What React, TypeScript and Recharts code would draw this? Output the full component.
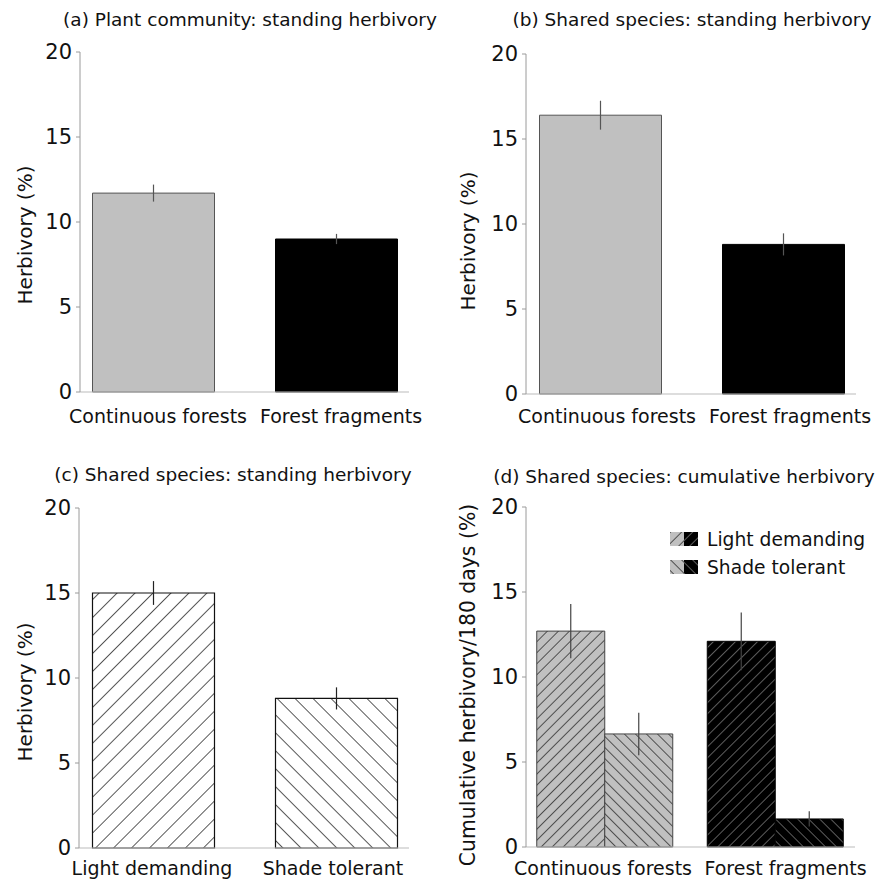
import React from "react";
import { BarChart, Bar, XAxis, YAxis, ErrorBar, Cell, Legend } from "recharts";

// ---------- data ----------
const FOREST_CATEGORIES = ["Continuous forests", "Forest fragments"];
const GUILD_CATEGORIES = ["Light demanding", "Shade tolerant"];
const Y_TICKS = [0, 5, 10, 15, 20];

const A_VALUES = [11.7, 9.0];
const A_ERRORS = [0.5, 0.3];

const B_VALUES = [16.4, 8.8];
const B_ERRORS = [0.85, 0.65];

const C_VALUES = [15.0, 8.8];
const C_ERRORS = [0.7, 0.65];

const D_LIGHT = [12.7, 12.1];
const D_LIGHT_ERR = [1.6, 1.7];
const D_SHADE = [6.65, 1.65];
const D_SHADE_ERR = [1.25, 0.45];

const TITLES = [
  "(a) Plant community: standing herbivory",
  "(b) Shared species: standing herbivory",
  "(c) Shared species: standing herbivory",
  "(d) Shared species: cumulative herbivory",
];

// ---------- tables built from arrays ----------
const dataA = FOREST_CATEGORIES.map((c, i) => ({ cat: c, value: A_VALUES[i], err: A_ERRORS[i] }));
const dataB = FOREST_CATEGORIES.map((c, i) => ({ cat: c, value: B_VALUES[i], err: B_ERRORS[i] }));
const dataC = GUILD_CATEGORIES.map((c, i) => ({ cat: c, value: C_VALUES[i], err: C_ERRORS[i] }));
const dataD = FOREST_CATEGORIES.map((c, i) => ({
  cat: c,
  light: D_LIGHT[i],
  lightErr: D_LIGHT_ERR[i],
  shade: D_SHADE[i],
  shadeErr: D_SHADE_ERR[i],
}));

const FONT = "'DejaVu Sans', sans-serif";
const GRAY = "#c0c0c0";
const AXIS_COLOR = "#9a9a9a";
const TEXT_COLOR = "#111";

const yTick = { fontSize: 21, fill: TEXT_COLOR, fontFamily: FONT };

// category tick label with a small per-label horizontal nudge
const makeXTick = (nudges: number[]) => (props: any) => {
  const { x, y, payload, index } = props;
  return (
    <text
      x={x + (nudges[index] || 0)}
      y={y}
      dy="0.71em"
      textAnchor="middle"
      fontSize={19}
      fill={TEXT_COLOR}
      fontFamily={FONT}
    >
      {payload.value}
    </text>
  );
};

const Patterns = ({ prefix }: { prefix: string }) => (
  <defs>
    <pattern id={`${prefix}cLight`} patternUnits="userSpaceOnUse" width={12.7} height={12.7} patternTransform="rotate(45)">
      <rect width={12.7} height={12.7} fill="#fff" />
      <line x1={0} y1={0} x2={0} y2={12.7} stroke="#111" strokeWidth={1.4} />
    </pattern>
    <pattern id={`${prefix}cShade`} patternUnits="userSpaceOnUse" width={12.7} height={12.7} patternTransform="rotate(-45)">
      <rect width={12.7} height={12.7} fill="#fff" />
      <line x1={0} y1={0} x2={0} y2={12.7} stroke="#111" strokeWidth={1.4} />
    </pattern>
    <pattern id={`${prefix}grayLight`} patternUnits="userSpaceOnUse" width={7.8} height={7.8} patternTransform="rotate(45)">
      <rect width={7.8} height={7.8} fill={GRAY} />
      <line x1={0} y1={0} x2={0} y2={7.8} stroke="#111" strokeWidth={1.3} />
    </pattern>
    <pattern id={`${prefix}grayShade`} patternUnits="userSpaceOnUse" width={7.8} height={7.8} patternTransform="rotate(-45)">
      <rect width={7.8} height={7.8} fill={GRAY} />
      <line x1={0} y1={0} x2={0} y2={7.8} stroke="#111" strokeWidth={1.3} />
    </pattern>
    <pattern id={`${prefix}blackLight`} patternUnits="userSpaceOnUse" width={7.8} height={7.8} patternTransform="rotate(45)">
      <rect width={7.8} height={7.8} fill="#000" />
      <line x1={0} y1={0} x2={0} y2={7.8} stroke="#9a9a9a" strokeWidth={1.2} />
    </pattern>
    <pattern id={`${prefix}blackShade`} patternUnits="userSpaceOnUse" width={7.8} height={7.8} patternTransform="rotate(-45)">
      <rect width={7.8} height={7.8} fill="#000" />
      <line x1={0} y1={0} x2={0} y2={7.8} stroke="#9a9a9a" strokeWidth={1.2} />
    </pattern>
  </defs>
);

const yLabel = (text: string, x: number, shift: number, size: number) => ({
  content: (props: any) => {
    const vb = props.viewBox || {};
    const cy = vb.y + vb.height / 2 + shift;
    return (
      <text
        x={x}
        y={cy}
        transform={`rotate(-90, ${x}, ${cy})`}
        textAnchor="middle"
        dominantBaseline="central"
        fontSize={size}
        fill={TEXT_COLOR}
        fontFamily={FONT}
      >
        {text}
      </text>
    );
  },
});

const Title = ({ text, left, top, width }: { text: string; left: number; top: number; width: number }) => (
  <div
    style={{
      position: "absolute",
      left,
      top,
      width,
      textAlign: "center",
      fontFamily: FONT,
      fontSize: 18.5,
      color: TEXT_COLOR,
      whiteSpace: "nowrap",
      lineHeight: "20px",
    }}
  >
    {text}
  </div>
);

const LegendContent = () => {
  const rows = [
    { label: GUILD_CATEGORIES[0], left: "lggrayLight", right: "lgblackLight" },
    { label: GUILD_CATEGORIES[1], left: "lggrayShade", right: "lgblackShade" },
  ];
  return (
    <div style={{ fontFamily: FONT, fontSize: 18.7, color: TEXT_COLOR }}>
      <svg width={0} height={0} style={{ position: "absolute" }}>
        <Patterns prefix="lg" />
      </svg>
      {rows.map((r) => (
        <div key={r.label} style={{ display: "flex", alignItems: "center", height: 28 }}>
          <svg width={28} height={14} style={{ marginRight: 9 }}>
            <rect x={0} y={0} width={14} height={14} fill={`url(#${r.left})`} />
            <rect x={14} y={0} width={14} height={14} fill={`url(#${r.right})`} />
          </svg>
          <span>{r.label}</span>
        </div>
      ))}
    </div>
  );
};

const Panel = ({ left, top, children }: { left: number; top: number; children: React.ReactNode }) => (
  <div style={{ position: "absolute", left, top }}>{children}</div>
);

export default function App() {
  return (
    <div
      style={{
        position: "absolute",
        left: 0,
        top: 0,
        width: 880,
        height: 882,
        background: "#fff",
        fontFamily: FONT,
      }}
    >
      {/* (a) */}
      <Panel left={0} top={0}>
        <BarChart width={440} height={440} data={dataA} margin={{ top: 52, right: 31, bottom: 0, left: 0 }}>
          <XAxis
            dataKey="cat"
            height={48}
            padding={{ left: -18.5, right: -18.5 }}
            tickLine={false}
            tickSize={0}
            tickMargin={18}
            tick={makeXTick([5, 5])}
            axisLine={{ stroke: "#bbb" }}
            interval={0}
          />
          <YAxis
            width={80}
            domain={[0, 20]}
            ticks={Y_TICKS}
            tick={yTick}
            tickSize={4}
            tickMargin={4}
            axisLine={{ stroke: AXIS_COLOR }}
            tickLine={{ stroke: AXIS_COLOR }}
            label={yLabel("Herbivory (%)", 25, 13, 20)}
          />
          <Bar dataKey="value" barSize={122} isAnimationActive={false} stroke="#555" strokeWidth={1}>
            {dataA.map((d, i) => (
              <Cell key={d.cat} fill={i === 0 ? GRAY : "#000"} stroke={i === 0 ? "#555" : "#000"} />
            ))}
            <ErrorBar dataKey="err" width={0} stroke="#555" strokeWidth={1.2} direction="y" isAnimationActive={false} />
          </Bar>
        </BarChart>
      </Panel>

      {/* (b) */}
      <Panel left={440} top={0}>
        <BarChart width={440} height={440} data={dataB} margin={{ top: 54, right: 24, bottom: 0, left: 0 }}>
          <XAxis
            dataKey="cat"
            height={46}
            padding={{ left: -17.5, right: -18.5 }}
            tickLine={false}
            tickSize={0}
            tickMargin={16}
            tick={makeXTick([7, 7])}
            axisLine={{ stroke: "#bbb" }}
            interval={0}
          />
          <YAxis
            width={86}
            domain={[0, 20]}
            ticks={Y_TICKS}
            tick={yTick}
            tickSize={4}
            tickMargin={4}
            axisLine={{ stroke: AXIS_COLOR }}
            tickLine={{ stroke: AXIS_COLOR }}
            label={yLabel("Herbivory (%)", 28, 17, 20)}
          />
          <Bar dataKey="value" barSize={122} isAnimationActive={false} strokeWidth={1}>
            {dataB.map((d, i) => (
              <Cell key={d.cat} fill={i === 0 ? GRAY : "#000"} stroke={i === 0 ? "#555" : "#000"} />
            ))}
            <ErrorBar dataKey="err" width={0} stroke="#555" strokeWidth={1.2} direction="y" isAnimationActive={false} />
          </Bar>
        </BarChart>
      </Panel>

      {/* (c) */}
      <Panel left={0} top={440}>
        <BarChart width={440} height={442} data={dataC} margin={{ top: 68, right: 31, bottom: 0, left: 0 }}>
          <Patterns prefix="c" />
          <XAxis
            dataKey="cat"
            height={34}
            padding={{ left: -17.5, right: -18.5 }}
            tickLine={false}
            tickSize={0}
            tickMargin={14}
            tick={makeXTick([-1, -3])}
            axisLine={{ stroke: "#bbb" }}
            interval={0}
          />
          <YAxis
            width={79}
            domain={[0, 20]}
            ticks={Y_TICKS}
            tick={yTick}
            tickSize={4}
            tickMargin={4}
            axisLine={{ stroke: AXIS_COLOR }}
            tickLine={{ stroke: AXIS_COLOR }}
            label={yLabel("Herbivory (%)", 25, 14, 20)}
          />
          <Bar dataKey="value" barSize={122} isAnimationActive={false} stroke="#111" strokeWidth={1.2}>
            {dataC.map((d, i) => (
              <Cell key={d.cat} fill={i === 0 ? "url(#ccLight)" : "url(#ccShade)"} />
            ))}
            <ErrorBar dataKey="err" width={0} stroke="#222" strokeWidth={1.2} direction="y" isAnimationActive={false} />
          </Bar>
        </BarChart>
      </Panel>

      {/* (d) */}
      <Panel left={440} top={440}>
        <BarChart
          width={440}
          height={442}
          data={dataD}
          margin={{ top: 67, right: 25, bottom: 0, left: 0 }}
          barGap={0}
        >
          <Patterns prefix="d" />
          <XAxis
            dataKey="cat"
            height={35}
            padding={{ left: -6.25, right: -5.75 }}
            tickLine={false}
            tickSize={0}
            tickMargin={15}
            tick={makeXTick([-2, 10])}
            axisLine={{ stroke: "#bbb" }}
            interval={0}
          />
          <YAxis
            width={86}
            domain={[0, 20]}
            ticks={Y_TICKS}
            tick={yTick}
            tickSize={4}
            tickMargin={4}
            axisLine={{ stroke: AXIS_COLOR }}
            tickLine={{ stroke: AXIS_COLOR }}
            label={yLabel("Cumulative herbivory/180 days (%)", 28, 8, 20.4)}
          />
          <Legend
            layout="vertical"
            align="center"
            verticalAlign="middle"
            content={<LegendContent />}
            wrapperStyle={{ left: 230, top: 85, width: 210 }}
          />
          <Bar dataKey="light" name={GUILD_CATEGORIES[0]} barSize={68} isAnimationActive={false} strokeWidth={1}>
            {dataD.map((d, i) => (
              <Cell key={d.cat} fill={i === 0 ? "url(#dgrayLight)" : "url(#dblackLight)"} stroke={i === 0 ? "#444" : "#000"} />
            ))}
            <ErrorBar dataKey="lightErr" width={0} stroke="#444" strokeWidth={1.2} direction="y" isAnimationActive={false} />
          </Bar>
          <Bar dataKey="shade" name={GUILD_CATEGORIES[1]} barSize={68} isAnimationActive={false} strokeWidth={1}>
            {dataD.map((d, i) => (
              <Cell key={d.cat} fill={i === 0 ? "url(#dgrayShade)" : "url(#dblackShade)"} stroke={i === 0 ? "#444" : "#000"} />
            ))}
            <ErrorBar dataKey="shadeErr" width={0} stroke="#444" strokeWidth={1.2} direction="y" isAnimationActive={false} />
          </Bar>
        </BarChart>
      </Panel>

      <Title text={TITLES[0]} left={50} top={10} width={400} />
      <Title text={TITLES[1]} left={492} top={10} width={400} />
      <Title text={TITLES[2]} left={33} top={465} width={400} />
      <Title text={TITLES[3]} left={484} top={467} width={400} />
    </div>
  );
}
